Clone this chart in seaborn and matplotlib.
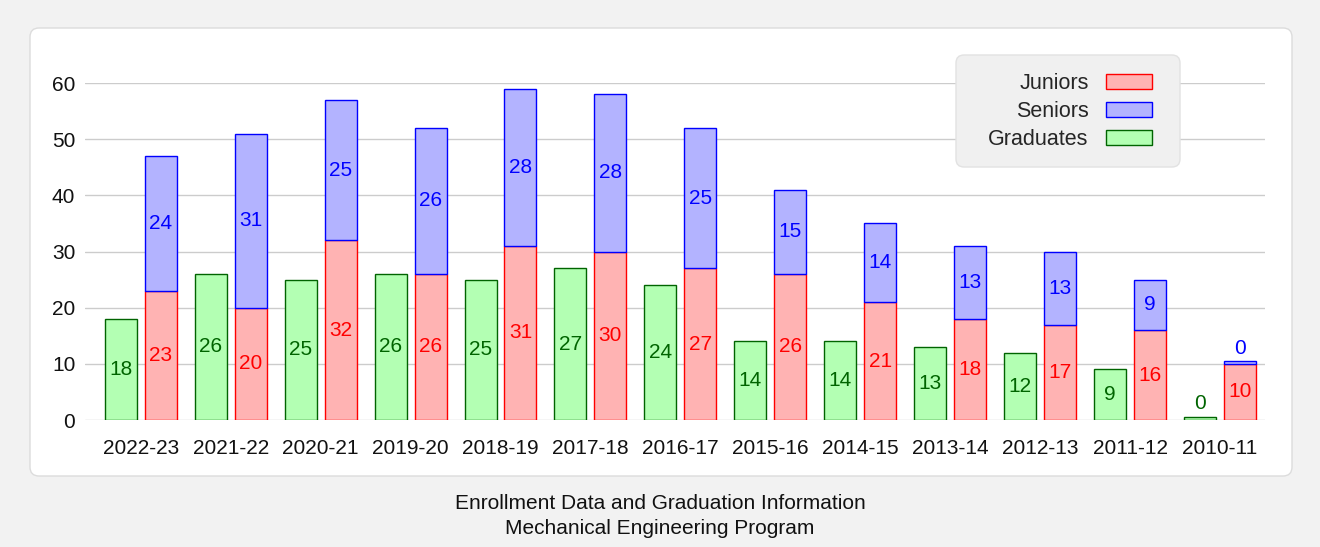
import numpy as np
import pandas as pd
import seaborn as sns
import matplotlib
matplotlib.use("Agg")
import matplotlib.pyplot as plt
from matplotlib.patches import FancyBboxPatch, Patch
from matplotlib.transforms import IdentityTransform

years = ["2010-11", "2011-12", "2012-13", "2013-14", "2014-15", "2015-16", "2016-17",
         "2017-18", "2018-19", "2019-20", "2020-21", "2021-22", "2022-23"]
juniors = [10, 16, 17, 18, 21, 26, 27, 30, 31, 26, 32, 20, 23]
seniors = [0, 9, 13, 13, 14, 15, 25, 28, 28, 26, 25, 31, 24]
graduates = [0, 9, 12, 13, 14, 14, 24, 27, 25, 26, 25, 26, 18]
y_ticks = [0, 10, 20, 30, 40, 50, 60]
caption = "Enrollment Data and Graduation Information\nMechanical Engineering Program"

sns.set_theme(style="white")
plt.rcParams["font.family"] = ["Liberation Sans", "DejaVu Sans"]

W, H = 1320, 547
fig = plt.figure(figsize=(W / 100, H / 100), dpi=100)
fig.patch.set_facecolor("#f2f2f2")

# white rounded panel
panel = FancyBboxPatch((30, H - 476), 1262, 448, boxstyle="round,pad=0,rounding_size=9",
                       transform=IdentityTransform(), facecolor="white",
                       edgecolor="#dcdcdc", linewidth=1.0, zorder=-5)
fig.patches.append(panel)
# legend frame
lframe = FancyBboxPatch((956, H - 167), 224, 112, boxstyle="round,pad=0,rounding_size=8",
                        transform=IdentityTransform(), facecolor="#f0f0f0",
                        edgecolor="#e2e2e2", linewidth=1.0, zorder=5)
fig.patches.append(lframe)

ax = fig.add_axes([85 / W, 1 - 420 / H, (1265 - 85) / W, (420 - 83) / H])
ax.set_facecolor("none")
ax.set_zorder(1)

df = pd.DataFrame({"year": years, "Juniors": juniors, "Seniors": seniors, "Graduates": graduates})
x = np.arange(len(df))
bw = 0.356
off = 0.222
minlen = 0.5

red_f, red_e = "#ffb3b3", "#ff0000"
blu_f, blu_e = "#b3b3ff", "#0000ff"
grn_f, grn_e = "#b3ffb3", "#006400"

g_h = np.maximum(df["Graduates"].values, minlen)
j_h = np.maximum(df["Juniors"].values, minlen)
s_h = np.maximum(df["Seniors"].values, minlen)

ax.bar(x + off, g_h, width=bw, color=grn_f, edgecolor=grn_e, linewidth=1.0, zorder=3)
ax.bar(x - off, j_h, width=bw, color=red_f, edgecolor=red_e, linewidth=1.0, zorder=3)
ax.bar(x - off, s_h, bottom=j_h, width=bw, color=blu_f, edgecolor=blu_e, linewidth=1.0, zorder=3)

lfs = 15
for i in range(len(df)):
    g, j, s = df["Graduates"][i], df["Juniors"][i], df["Seniors"][i]
    if g > 0:
        ax.text(x[i] + off, g / 2, str(g), ha="center", va="center", color=grn_e, fontsize=lfs, zorder=4)
    else:
        ax.text(x[i] + off, g_h[i] + 2.5, str(g), ha="center", va="center", color=grn_e, fontsize=lfs, zorder=4)
    ax.text(x[i] - off, j / 2, str(j), ha="center", va="center", color=red_e, fontsize=lfs, zorder=4)
    if s > 0:
        ax.text(x[i] - off, j_h[i] + s / 2, str(s), ha="center", va="center", color=blu_e, fontsize=lfs, zorder=4)
    else:
        ax.text(x[i] - off, j_h[i] + s_h[i] + 2.3, str(s), ha="center", va="center", color=blu_e, fontsize=lfs, zorder=4)

ax.set_xlim(12.62, -0.5)
ax.set_ylim(0, 60)
ax.set_yticks(y_ticks)
ax.set_yticklabels([str(v) for v in y_ticks], fontsize=15, color="#111111")
ax.set_xticks(x)
ax.set_xticklabels(years, fontsize=15, color="#111111")
ax.tick_params(axis="y", length=0, pad=7)
ax.tick_params(axis="x", length=0, pad=14)
ax.yaxis.grid(True, color="#cccccc", linewidth=1.0, zorder=0)
ax.xaxis.grid(False)
ax.set_axisbelow(True)
for sp in ax.spines.values():
    sp.set_visible(False)
ax.set_xlabel("")
ax.set_ylabel("")

handles = [Patch(facecolor=red_f, edgecolor=red_e, linewidth=1.0, label="Juniors"),
           Patch(facecolor=blu_f, edgecolor=blu_e, linewidth=1.0, label="Seniors"),
           Patch(facecolor=grn_f, edgecolor=grn_e, linewidth=1.0, label="Graduates")]
leg = fig.legend(handles=handles, loc="upper right", bbox_to_anchor=(1152 / W, 1 - 73 / H),
                 fontsize=15.5, markerfirst=False, alignment="right", frameon=False,
                 borderpad=0, handlelength=2.15, handleheight=0.67, handletextpad=0.8,
                 labelspacing=0.33, borderaxespad=0)
leg.set_zorder(6)

fig.text(660 / W, 1 - 516 / H, caption, ha="center", va="center", fontsize=15,
         color="#111111", linespacing=1.4)

fig.savefig("out.png", dpi=100, facecolor=fig.get_facecolor())
